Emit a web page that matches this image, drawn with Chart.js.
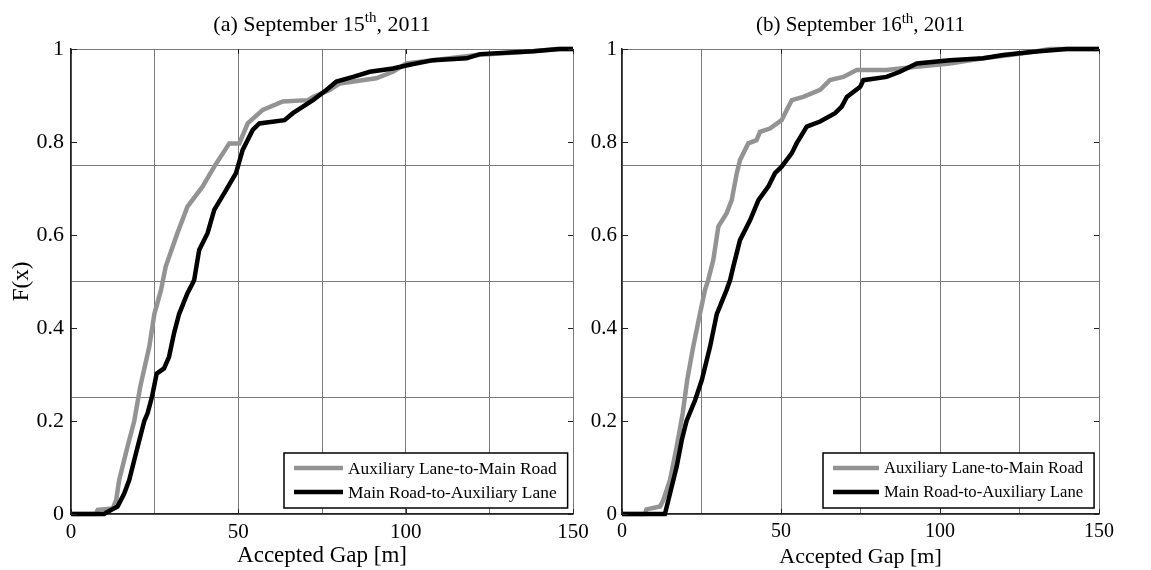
<!DOCTYPE html>
<html>
<head>
<meta charset="utf-8">
<script src="https://cdn.jsdelivr.net/npm/chart.js@4.4.0/dist/chart.umd.min.js"></script>
<style>
  body { margin: 0; background: #fff; }
  #wrap { position: relative; width: 1151px; height: 570px; }
  #wrap canvas { position: absolute; left: 0; top: 0; }
</style>
</head>
<body>
<div id="wrap">
  <canvas id="chartA" width="1151" height="570"></canvas>
  <canvas id="chartB" width="1151" height="570"></canvas>
</div>
<script>
// labels and ticks
const seriesLabels = ["Auxiliary Lane-to-Main Road", "Main Road-to-Auxiliary Lane"];
const xTickValues = [0, 50, 100, 150];
const yTickValues = [0, 0.2, 0.4, 0.6, 0.8, 1];
const titleA = ["(a) September 15", "th", ", 2011"];
const titleB = ["(b) September 16", "th", ", 2011"];
const xTitle = "Accepted Gap [m]";
const yTitle = "F(x)";

// (a) September 15th - auxiliary lane to main road
const gapAux15 = [0, 7.4, 8, 12.5, 13.5, 14.4, 16.9, 18.9, 20.7, 23.4, 24.9, 26.9, 28.3, 31.8, 34.8, 39.3, 42.8, 47.3, 50.3, 52.8, 57.3, 63.3, 70.8, 72.3, 77.3, 80.3, 91.2, 96.2, 100.2, 121.2, 136.2, 145, 150];
const cdfAux15 = [0, 0, 0.009, 0.012, 0.03, 0.073, 0.145, 0.2, 0.274, 0.36, 0.43, 0.482, 0.532, 0.604, 0.661, 0.704, 0.747, 0.797, 0.797, 0.84, 0.869, 0.887, 0.89, 0.897, 0.912, 0.926, 0.937, 0.951, 0.969, 0.987, 0.994, 1, 1];
// (a) main road to auxiliary lane
const gapMain15 = [0, 9.9, 11, 13.9, 15.9, 17.4, 19.4, 21.9, 22.9, 24.2, 25.6, 27.8, 29.3, 30.8, 32.3, 34.8, 35.9, 36.8, 38.3, 40.8, 42.8, 45.8, 49.3, 51.3, 54.3, 56.3, 63.8, 66.3, 69.3, 72.3, 76.3, 79.3, 84.3, 89.3, 96.2, 101.2, 108.2, 118.2, 122.2, 138.2, 146, 150];
const cdfMain15 = [0, 0, 0.005, 0.016, 0.044, 0.073, 0.13, 0.2, 0.217, 0.252, 0.302, 0.313, 0.338, 0.389, 0.43, 0.475, 0.49, 0.503, 0.568, 0.604, 0.654, 0.69, 0.733, 0.783, 0.826, 0.84, 0.847, 0.862, 0.876, 0.89, 0.912, 0.93, 0.94, 0.951, 0.958, 0.966, 0.976, 0.98, 0.989, 0.995, 1, 1];

// (b) September 16th - auxiliary lane to main road
const gapAux16 = [0, 7.2, 7.7, 12, 13, 15.1, 17.2, 19.1, 20.5, 22.4, 24.5, 26.1, 27.1, 28.7, 30.3, 32.9, 34.5, 36.1, 37.1, 39.7, 42.3, 43.4, 46.5, 50.2, 51.8, 53.4, 57, 62.3, 65.4, 69.6, 73.8, 83.3, 87.4, 92.6, 103.1, 113.6, 122, 129.4, 134.6, 150];
const cdfAux16 = [0, 0, 0.01, 0.016, 0.03, 0.073, 0.145, 0.217, 0.288, 0.36, 0.43, 0.482, 0.503, 0.546, 0.618, 0.647, 0.675, 0.733, 0.761, 0.797, 0.804, 0.822, 0.829, 0.847, 0.869, 0.89, 0.897, 0.912, 0.933, 0.94, 0.955, 0.955, 0.958, 0.962, 0.969, 0.98, 0.987, 0.994, 1, 1];
// (b) main road to auxiliary lane
const gapMain16 = [0, 13.5, 15.1, 17.2, 18.8, 20.3, 23, 25.1, 27.7, 29.8, 32.9, 34, 35, 37.1, 40.3, 42.9, 46, 48.1, 50.2, 53.4, 54.9, 58.1, 62.3, 67, 69.1, 70.7, 74.9, 75.9, 83.2, 87.4, 92.7, 103.1, 113.6, 119.9, 129.4, 139.8, 150];
const cdfMain16 = [0, 0, 0.044, 0.102, 0.159, 0.2, 0.245, 0.288, 0.36, 0.43, 0.482, 0.503, 0.532, 0.589, 0.632, 0.675, 0.704, 0.733, 0.747, 0.776, 0.797, 0.833, 0.844, 0.862, 0.876, 0.897, 0.919, 0.933, 0.94, 0.951, 0.969, 0.976, 0.98, 0.987, 0.994, 1, 1];

const serif = "'Liberation Serif', 'Times New Roman', serif";
Chart.defaults.font.family = serif;
Chart.defaults.color = "#000";

function toPoints(xs, ys) {
  return xs.map((x, i) => ({ x, y: ys[i] }));
}

function onStep(v, step) {
  return Math.abs(v / step - Math.round(v / step)) < 1e-6;
}

// title with a superscript "th"
const supTitle = {
  id: "supTitle",
  afterDraw(chart, args, opts) {
    const { ctx, chartArea } = chart;
    const [main, sup, tail] = opts.parts;
    const big = opts.size + "px " + serif;
    const small = Math.round(opts.size * 0.7) + "px " + serif;
    ctx.save();
    ctx.fillStyle = "#000";
    ctx.textAlign = "left";
    ctx.textBaseline = "alphabetic";
    ctx.font = big;
    const w1 = ctx.measureText(main).width;
    const w3 = ctx.measureText(tail).width;
    ctx.font = small;
    const w2 = ctx.measureText(sup).width;
    let x = (chartArea.left + chartArea.right) / 2 - (w1 + w2 + w3) / 2;
    ctx.font = big;
    ctx.fillText(main, x, opts.baseline);
    x += w1;
    ctx.font = small;
    ctx.fillText(sup, x, opts.baseline - opts.size * 0.4);
    x += w2;
    ctx.font = big;
    ctx.fillText(tail, x, opts.baseline);
    ctx.restore();
  }
};

// boxed legend in the lower right corner
const boxLegend = {
  id: "boxLegend",
  afterDatasetsDraw(chart, args, opts) {
    const { ctx, chartArea } = chart;
    const sets = chart.data.datasets;
    ctx.save();
    ctx.font = opts.size + "px " + serif;
    const textW = Math.max(...sets.map(d => ctx.measureText(d.label).width));
    const w = 10 + opts.line + 5 + textW + 11;
    const h = 55;
    const x0 = Math.round(chartArea.right - 5 - w);
    const y0 = Math.round(chartArea.bottom - 6 - h);
    ctx.fillStyle = "#fff";
    ctx.fillRect(x0, y0, w, h);
    ctx.strokeStyle = "#000";
    ctx.lineWidth = 1.5;
    ctx.strokeRect(x0, y0, w, h);
    sets.forEach((d, i) => {
      const y = y0 + 15 + i * 24;
      ctx.strokeStyle = d.borderColor;
      ctx.lineWidth = 4.5;
      ctx.beginPath();
      ctx.moveTo(x0 + 10, y);
      ctx.lineTo(x0 + 10 + opts.line, y);
      ctx.stroke();
      ctx.fillStyle = "#000";
      ctx.textAlign = "left";
      ctx.textBaseline = "middle";
      ctx.fillText(d.label, x0 + 15 + opts.line, y + 1);
    });
    ctx.restore();
  }
};

// short inward tick marks, MATLAB style
const innerTicks = {
  id: "innerTicks",
  afterDraw(chart) {
    const { ctx, chartArea, scales } = chart;
    ctx.save();
    ctx.strokeStyle = "#222";
    ctx.lineWidth = 1;
    ctx.beginPath();
    xTickValues.forEach(v => {
      const px = Math.round(scales.x.getPixelForValue(v)) + 0.5;
      ctx.moveTo(px, chartArea.bottom);
      ctx.lineTo(px, chartArea.bottom - 5);
      ctx.moveTo(px, chartArea.top);
      ctx.lineTo(px, chartArea.top + 5);
    });
    yTickValues.forEach(v => {
      const py = Math.round(scales.y.getPixelForValue(v)) + 0.5;
      ctx.moveTo(chartArea.left, py);
      ctx.lineTo(chartArea.left + 6, py);
      ctx.moveTo(chartArea.right, py);
      ctx.lineTo(chartArea.right - 5, py);
    });
    ctx.stroke();
    ctx.restore();
  }
};

function makeChart(id, p) {
  return new Chart(document.getElementById(id), {
    type: "line",
    data: {
      datasets: [
        {
          label: seriesLabels[0],
          data: toPoints(p.auxX, p.auxY),
          borderColor: "#939393",
          borderWidth: 4.5,
          pointRadius: 0,
          order: 2,
          clip: 4
        },
        {
          label: seriesLabels[1],
          data: toPoints(p.mainX, p.mainY),
          borderColor: "#000000",
          borderWidth: 4.5,
          pointRadius: 0,
          order: 1,
          clip: 4
        }
      ]
    },
    options: {
      responsive: false,
      animation: false,
      events: [],
      layout: { padding: p.padding },
      plugins: {
        legend: { display: false },
        title: { display: false },
        tooltip: { enabled: false },
        supTitle: { parts: p.title, size: p.titleSize, baseline: 31 },
        boxLegend: { size: p.legendSize, line: p.legendLine }
      },
      scales: {
        x: {
          type: "linear",
          min: 0,
          max: 150,
          ticks: {
            stepSize: 25,
            autoSkip: false,
            maxRotation: 0,
            padding: 6,
            font: { size: p.tickSize },
            callback: v => (onStep(v, 50) ? String(v) : "")
          },
          grid: { color: "#7a7a7a", lineWidth: 1, drawTicks: false },
          border: { color: "#222", width: 1.5 },
          title: { display: true, text: xTitle, font: { size: p.axisSize }, padding: { top: 0, bottom: 0 } },
          afterFit: s => { s.height = 56; }
        },
        y: {
          type: "linear",
          min: 0,
          max: 1,
          ticks: {
            stepSize: 0.05,
            autoSkip: false,
            padding: p.yPad,
            font: { size: p.tickSize + 1 },
            callback: v => (onStep(v, 0.2) ? (v === 0 || v === 1 ? String(v) : v.toFixed(1)) : "")
          },
          grid: {
            color: c => (onStep(c.tick.value, 0.25) ? "#7a7a7a" : "rgba(0,0,0,0)"),
            lineWidth: 1,
            drawTicks: false
          },
          border: { color: "#222", width: 1.5 },
          title: { display: p.yTitle, text: yTitle, font: { size: p.axisSize }, padding: { top: 8, bottom: 0 } },
          afterFit: s => { s.width = p.yWidth; }
        }
      }
    },
    plugins: [supTitle, boxLegend, innerTicks]
  });
}

makeChart("chartA", {
  auxX: gapAux15, auxY: cdfAux15, mainX: gapMain15, mainY: cdfMain15,
  title: titleA, titleSize: 22, tickSize: 21, axisSize: 23, legendSize: 17.4, legendLine: 49,
  padding: { left: 0, top: 49, right: 578, bottom: 0 },
  yWidth: 71, yPad: 7, yTitle: true
});

makeChart("chartB", {
  auxX: gapAux16, auxY: cdfAux16, mainX: gapMain16, mainY: cdfMain16,
  title: titleB, titleSize: 21, tickSize: 20, axisSize: 22, legendSize: 16.6, legendLine: 46,
  padding: { left: 572, top: 49, right: 52, bottom: 0 },
  yWidth: 50, yPad: 5, yTitle: false
});
</script>
</body>
</html>
